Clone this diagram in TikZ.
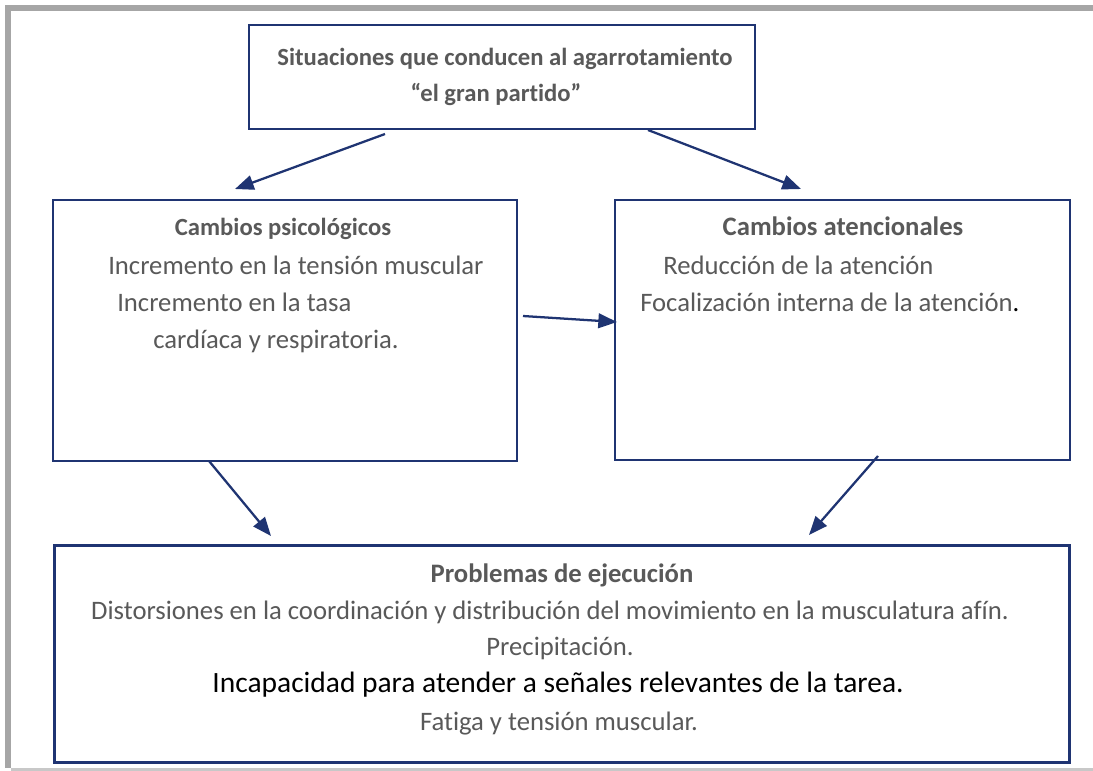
\documentclass[tikz,border=0pt]{standalone}
\usepackage{fontspec}
\setmainfont{Carlito}[Ligatures=NoCommon]
\usetikzlibrary{arrows.meta}
\definecolor{navy}{HTML}{1F3472}
\definecolor{txtgray}{HTML}{595959}
\definecolor{framegray}{HTML}{A6A6A6}
\definecolor{framelight}{HTML}{C8C8C8}
\tikzset{
  box/.style={draw=navy, line width=1.8pt, fill=white},
  txt/.style={text=txtgray, font=\fontsize{20}{24}\selectfont, inner sep=0pt},
  ttl/.style={txt, font=\fontsize{20}{24}\selectfont\bfseries},
  ttlsmall/.style={txt, font=\fontsize{18.5}{22}\selectfont\bfseries},
  big/.style={text=black, font=\fontsize{22.1}{26}\selectfont, inner sep=0pt},
  conn/.style={draw=navy, line width=1.7pt, -{Triangle[length=14pt,width=11pt]}}
}
\begin{document}
\begin{tikzpicture}[x=0.75pt,y=-0.75pt]
\useasboundingbox (0,0) rectangle (1093,771);
% page frame
\fill[framegray] (5,5) rectangle (1093,11);
\fill[framegray] (5,5) rectangle (11,768);
\fill[framelight] (11,768) rectangle (1093,771);
% boxes
\node[box, minimum width=506*0.75pt, minimum height=104*0.75pt] (top) at (502,77) {};
\node[box, minimum width=464*0.75pt, minimum height=261*0.75pt] (left) at (285,330.5) {};
\node[box, minimum width=455*0.75pt, minimum height=260*0.75pt] (right) at (842.5,330) {};
\node[box, minimum width=1015*0.75pt, minimum height=217*0.75pt] (bottom) at (562,654) {};
% top texts
\node[ttlsmall, anchor=mid] (t1) at (505,62) {Situaciones que conducen al agarrotamiento};
\node[ttlsmall, anchor=mid] (t2) at (496,98) {“el gran partido”};
% left texts
\node[ttlsmall, anchor=mid] (l1) at (283,232) {Cambios psicológicos};
\node[txt, anchor=mid west] (l2) at (108,271) {Incremento en la tensión muscular};
\node[txt, anchor=mid west] (l3) at (117,308) {Incremento en la tasa};
\node[txt, anchor=mid west] (l4) at (153,345) {cardíaca y respiratoria.};
% right texts
\node[ttl, anchor=mid] (r1) at (843,232) {Cambios atencionales};
\node[txt, anchor=mid west] (r2) at (663,271) {Reducción de la atención};
\node[txt, anchor=mid west] (r3) at (640,308) {Focalización interna de la atención\textcolor{black}{.}};
% bottom texts
\node[ttl, anchor=mid] (b1) at (562,579) {Problemas de ejecución};
\node[txt, anchor=mid] (b2) at (550,616) {Distorsiones en la coordinación y distribución del movimiento en la musculatura afín.};
\node[txt, anchor=mid] (b3) at (560,652) {Precipitación.};
\node[big, anchor=mid] (b4) at (558,689) {Incapacidad para atender a señales relevantes de la tarea.};
\node[txt, anchor=mid] (b5) at (559,727) {Fatiga y tensión muscular.};
% connector endpoints
\coordinate (a1s) at (385,134);
\coordinate (a1e) at (235,189);
\coordinate (a2s) at (648,130);
\coordinate (a2e) at (801,189);
\coordinate (a3s) at (523,316);
\coordinate (a3e) at (617,322);
\coordinate (a4s) at (209,461);
\coordinate (a4e) at (271,536);
\coordinate (a5s) at (878,456);
\coordinate (a5e) at (809,535);
\draw[conn] (a1s) -- (a1e);
\draw[conn] (a2s) -- (a2e);
\draw[conn] (a3s) -- (a3e);
\draw[conn] (a4s) -- (a4e);
\draw[conn] (a5s) -- (a5e);
\end{tikzpicture}
\end{document}
